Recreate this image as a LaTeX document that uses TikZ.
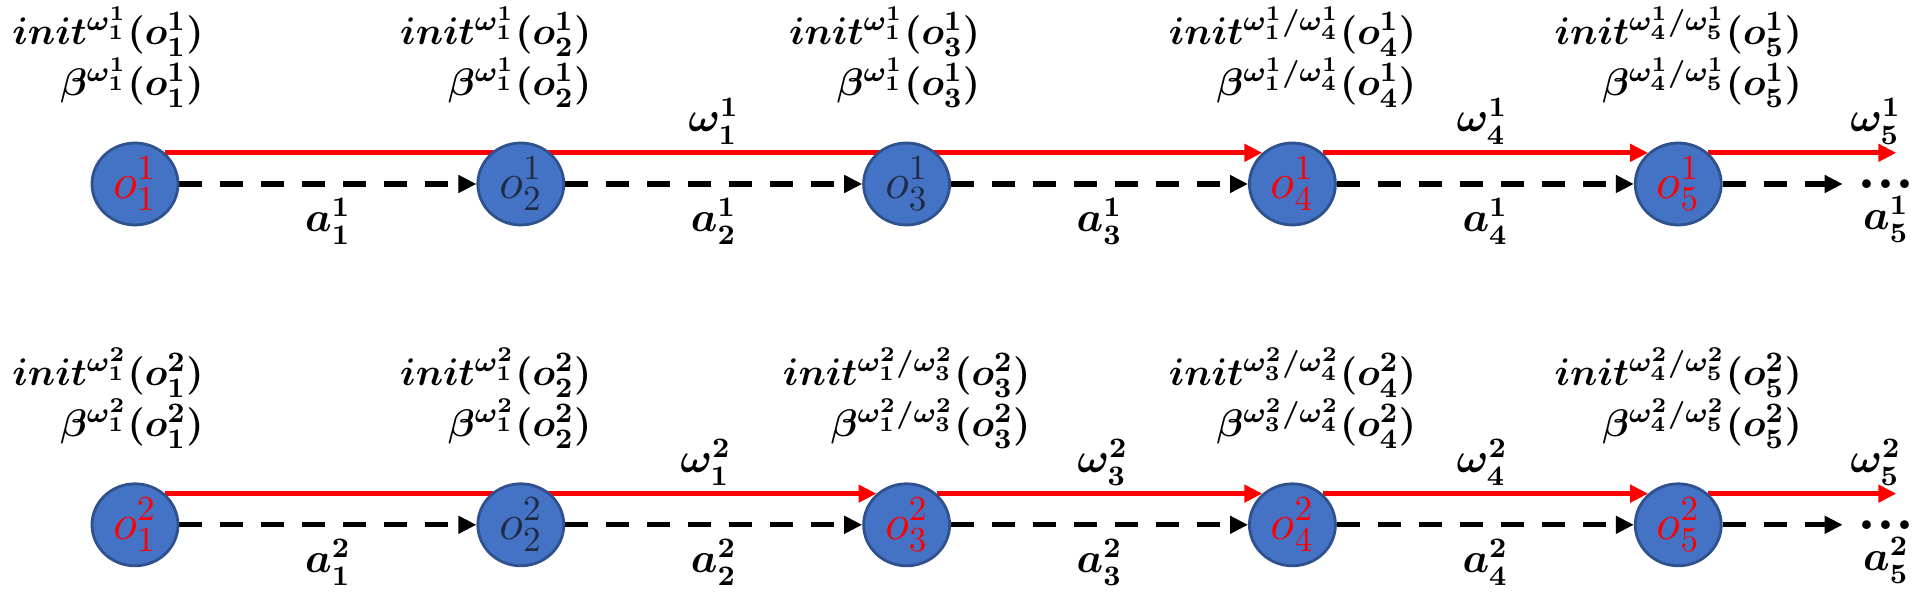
\documentclass[tikz,border=0pt]{standalone}
\usepackage{amsmath}
\usetikzlibrary{arrows.meta,calc,positioning,shapes.geometric,backgrounds}

\definecolor{obsfill}{HTML}{4472C4}
\definecolor{obsline}{HTML}{2F528F}
\definecolor{obsdark}{HTML}{1F2A44}

\begin{document}
\begin{tikzpicture}[
  font=\large\boldmath,
  obs/.style ={draw=obsline,line width=0.8pt,fill=obsfill,ellipse,
               minimum width=0.86cm,minimum height=0.82cm,inner sep=0pt,
               font=\Large},
  hit/.style ={obs,text=red},
  miss/.style={obs,text=obsdark},
  info/.style={align=right,inner sep=1pt,
               font=\fontsize{11.3}{14.5}\selectfont\boldmath},
  olab/.style={above,inner sep=1.5pt,text=black},
  more/.style={font=\LARGE\bfseries,inner sep=4pt},
  opt/.style ={-{Triangle[length=0.18cm,width=0.17cm]},red,line width=1.5pt},
  act/.style ={-{Triangle[length=0.18cm,width=0.17cm]},
               dash pattern=on 0.23cm off 0.18cm,line width=1.5pt},
]
\useasboundingbox (0,0) rectangle (19.27,5.92);

%% ======================================================
%% Row 1: option omega^1
%% ======================================================
\node[hit]  (top1) at (1.35,4.08)        {$o_1^1$};
\node[miss,right=2.97cm of top1] (top2) {$o_2^1$};
\node[miss,right=2.97cm of top2] (top3) {$o_3^1$};
\node[hit, right=2.97cm of top3] (top4) {$o_4^1$};
\node[hit, right=2.97cm of top4] (top5) {$o_5^1$};
\node[more,right=1.2cm of top5] (dtop) {...};
\coordinate (etop) at ($(top5.46)+(1.88,0)$);

\node[info,above=0.3cm of top1,xshift=-0.27cm] (itop1)
     {$init^{\omega_1^1}(o_1^1)$\\$\beta^{\omega_1^1}(o_1^1)$};
\node[info,above=0.3cm of top2,xshift=-0.25cm] (itop2)
     {$init^{\omega_1^1}(o_2^1)$\\$\beta^{\omega_1^1}(o_2^1)$};
\node[info,above=0.3cm of top3,xshift=-0.22cm] (itop3)
     {$init^{\omega_1^1}(o_3^1)$\\$\beta^{\omega_1^1}(o_3^1)$};
\node[info,above=0.3cm of top4] (itop4)
     {$init^{\omega_1^1/\omega_4^1}(o_4^1)$\\$\beta^{\omega_1^1/\omega_4^1}(o_4^1)$};
\node[info,above=0.3cm of top5] (itop5)
     {$init^{\omega_4^1/\omega_5^1}(o_5^1)$\\$\beta^{\omega_4^1/\omega_5^1}(o_5^1)$};

%% ======================================================
%% Row 2: option omega^2
%% ======================================================
\node[hit, below=2.56cm of top1] (bot1) {$o_1^2$};
\node[miss,right=2.97cm of bot1] (bot2) {$o_2^2$};
\node[hit, right=2.97cm of bot2] (bot3) {$o_3^2$};
\node[hit, right=2.97cm of bot3] (bot4) {$o_4^2$};
\node[hit, right=2.97cm of bot4] (bot5) {$o_5^2$};
\node[more,right=1.2cm of bot5] (dbot) {...};
\coordinate (ebot) at ($(bot5.46)+(1.88,0)$);

\node[info,above=0.3cm of bot1,xshift=-0.27cm] (ibot1)
     {$init^{\omega_1^2}(o_1^2)$\\$\beta^{\omega_1^2}(o_1^2)$};
\node[info,above=0.3cm of bot2,xshift=-0.25cm] (ibot2)
     {$init^{\omega_1^2}(o_2^2)$\\$\beta^{\omega_1^2}(o_2^2)$};
\node[info,above=0.3cm of bot3] (ibot3)
     {$init^{\omega_1^2/\omega_3^2}(o_3^2)$\\$\beta^{\omega_1^2/\omega_3^2}(o_3^2)$};
\node[info,above=0.3cm of bot4] (ibot4)
     {$init^{\omega_3^2/\omega_4^2}(o_4^2)$\\$\beta^{\omega_3^2/\omega_4^2}(o_4^2)$};
\node[info,above=0.3cm of bot5] (ibot5)
     {$init^{\omega_4^2/\omega_5^2}(o_5^2)$\\$\beta^{\omega_4^2/\omega_5^2}(o_5^2)$};

%% --- Arrows (behind the circles) ---
\begin{scope}[on background layer]
  % options
  \draw[opt] (top1.46)  -- node[olab,pos=0.5]{$\omega_1^1$} (top4.134);
  \draw[opt] (top4.46)  -- node[olab,pos=0.49]{$\omega_4^1$} (top5.134);
  \draw[opt] (top5.46)  -- node[olab,pos=0.89]{$\omega_5^1$} (etop);
  \draw[opt] (bot1.46)  -- node[olab,pos=0.76]{$\omega_1^2$} (bot3.134);
  \draw[opt] (bot3.46)  -- node[olab,pos=0.51]{$\omega_3^2$} (bot4.134);
  \draw[opt] (bot4.46)  -- node[olab,pos=0.49]{$\omega_4^2$} (bot5.134);
  \draw[opt] (bot5.46)  -- node[olab,pos=0.89]{$\omega_5^2$} (ebot);
  % actions
  \draw[act] (top1) -- node[below]{$a_1^1$} (top2);
  \draw[act] (top2) -- node[below]{$a_2^1$} (top3);
  \draw[act] (top3) -- node[below]{$a_3^1$} (top4);
  \draw[act] (top4) -- node[below]{$a_4^1$} (top5);
  \draw[act] (top5) -- (dtop);
  \draw[act] (bot1) -- node[below]{$a_1^2$} (bot2);
  \draw[act] (bot2) -- node[below]{$a_2^2$} (bot3);
  \draw[act] (bot3) -- node[below]{$a_3^2$} (bot4);
  \draw[act] (bot4) -- node[below]{$a_4^2$} (bot5);
  \draw[act] (bot5) -- (dbot);
\end{scope}
\node[below=0cm of dtop.center] (atop5) {$a_5^1$};
\node[below=0cm of dbot.center] (abot5) {$a_5^2$};

\end{tikzpicture}
\end{document}
